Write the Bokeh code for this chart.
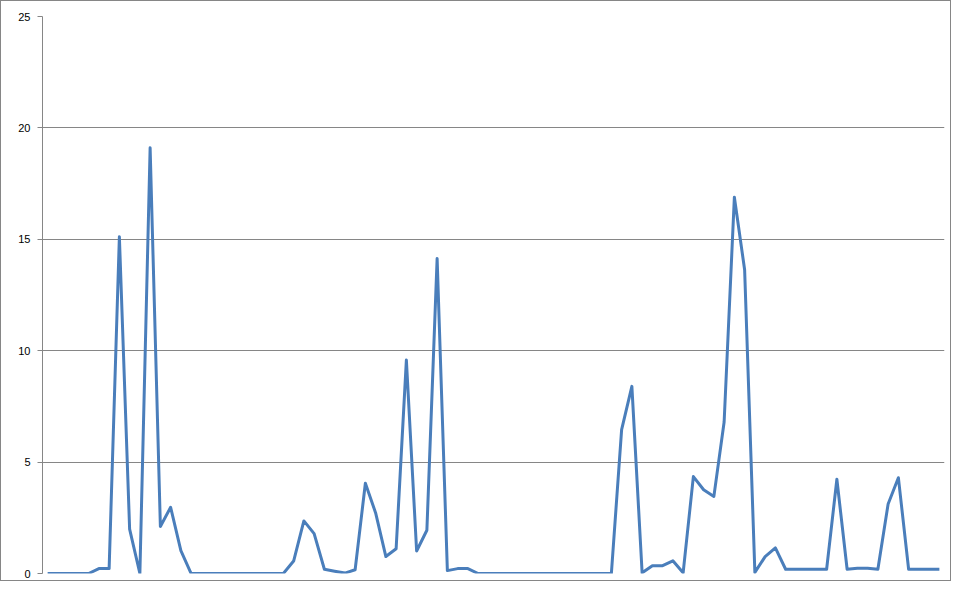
from bokeh.plotting import figure
from bokeh.models import Range1d, FixedTicker
from bokeh.embed import file_html
from bokeh.resources import INLINE

values = [0, 0, 0, 0, 0, 0.22, 0.22, 15.11, 1.99, 0,
          19.11, 2.11, 2.97, 1.03, 0, 0, 0, 0, 0, 0,
          0, 0, 0, 0, 0.56, 2.36, 1.79, 0.19, 0.1, 0.02,
          0.17, 4.05, 2.72, 0.76, 1.11, 9.58, 1.01, 1.94, 14.14, 0.13,
          0.22, 0.22, 0, 0, 0, 0, 0, 0, 0, 0,
          0, 0, 0, 0, 0, 0, 6.46, 8.40, 0.03, 0.35,
          0.35, 0.57, 0.03, 4.35, 3.76, 3.46, 6.80, 16.89, 13.63, 0.05,
          0.76, 1.15, 0.19, 0.19, 0.19, 0.19, 0.19, 4.23, 0.19, 0.24,
          0.24, 0.19, 3.12, 4.30, 0.19, 0.19, 0.19, 0.19]
index = list(range(len(values)))
y_ticks = [0, 5, 10, 15, 20, 25]

p = figure(width=951, height=581, output_backend="svg", toolbar_location=None,
           x_range=Range1d(-0.5, len(values) - 0.5), y_range=Range1d(0, 25),
           min_border_left=41, min_border_right=8, min_border_top=15, min_border_bottom=9)
p.styles = {"border": "1px solid #868686", "box-sizing": "border-box"}
p.outline_line_color = None
p.xaxis.visible = False
p.xgrid.visible = False
p.ygrid.grid_line_color = "#868686"
p.ygrid.grid_line_width = 1
p.yaxis.ticker = FixedTicker(ticks=y_ticks)
p.yaxis.axis_line_color = "#868686"
p.yaxis.major_tick_line_color = "#868686"
p.yaxis.major_tick_out = 5
p.yaxis.major_tick_in = 0
p.yaxis.minor_tick_line_color = None
p.yaxis.major_label_text_font = "Liberation Sans"
p.yaxis.major_label_text_font_size = "11px"
p.yaxis.major_label_text_color = "#000000"
p.yaxis.major_label_standoff = 7

p.line(index, values, line_color="#4a7ebb", line_width=3, line_join="round")

open("out.html", "w").write(file_html(p, INLINE))
